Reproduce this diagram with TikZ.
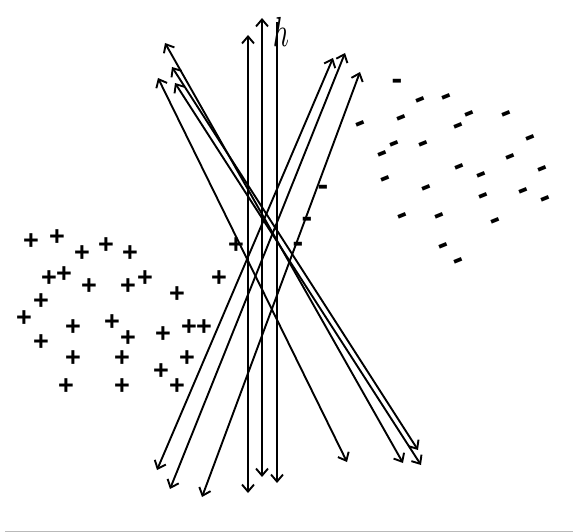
\documentclass[tikz,border=0pt]{standalone}
\usepackage{fontspec}
\usetikzlibrary{arrows.meta}
\newfontfamily\signfont{Liberation Sans}

\begin{document}
\begin{tikzpicture}[x=1pt,y=-1pt,>={Straight Barb[length=7pt,width=12pt]},
  vec/.style={<->,line width=1.9pt},
  plus/.style={inner sep=0pt,text height=19pt,text depth=0pt,
    font=\signfont\bfseries\fontsize{27}{27}\selectfont},
  minus/.style={inner sep=0pt,rotate=22,text height=10.5pt,text depth=-6.5pt,
    font=\signfont\bfseries\fontsize{32}{32}\selectfont},
  flat/.style={minus,rotate=-22}]
\useasboundingbox (0,0) rectangle (573,532);
\draw[gray!55,line width=1pt] (5,531)--(573,531);
% projection directions
\foreach \n/\xa/\ya/\xb/\yb in {1/248/493/248/35,2/262/477/262/18,
  3/157/470/333/58,4/170/489/345/53,5/202/497/360/72,
  6/158/78/347/462,7/165/43/403/463,8/172/67/418/450,9/175/83/421/465}{
 \coordinate (s\n) at (\xa,\ya); \coordinate (t\n) at (\xb,\yb);
 \draw[vec] (s\n)--(t\n);
}
\coordinate (s0) at (277,22); \coordinate (t0) at (277,483);
\draw[->,line width=1.9pt] (s0)--(t0);
\node[inner sep=0pt] (h) at (281,32) {\scalebox{2.8}[4.2]{$h$}};
% class +
\foreach \x/\y [count=\i] in {31/240,57/236,82/252,106/244,130/252,236/244,
  49/277,64/273,89/285,128/285,145/277,219/277,177/293,41/300,24/317,
  73/326,112/321,128/337,163/333,189/326,204/326,41/341,73/357,122/357,
  187/357,161/370,66/385,122/385,177/385}
 \node[plus] (p\i) at (\x,\y) {+};
% class -
\foreach \x/\y [count=\i] in {421/103,447/100,361/127,402/121,470/117,
  507/117,459/129,395/147,383/157,424/147,531/141,511/160,460/170,482/178,
  543/172,386/182,427/191,484/199,524/194,546/202,403/219,440/219,
  496/224,444/249,459/264}
 \node[minus] (m\i) at (\x,\y) {-};
\foreach \x/\y [count=\i] in {397/84,323/190,307/222,298/247}
 \node[flat] (f\i) at (\x,\y) {-};
\end{tikzpicture}
\end{document}
